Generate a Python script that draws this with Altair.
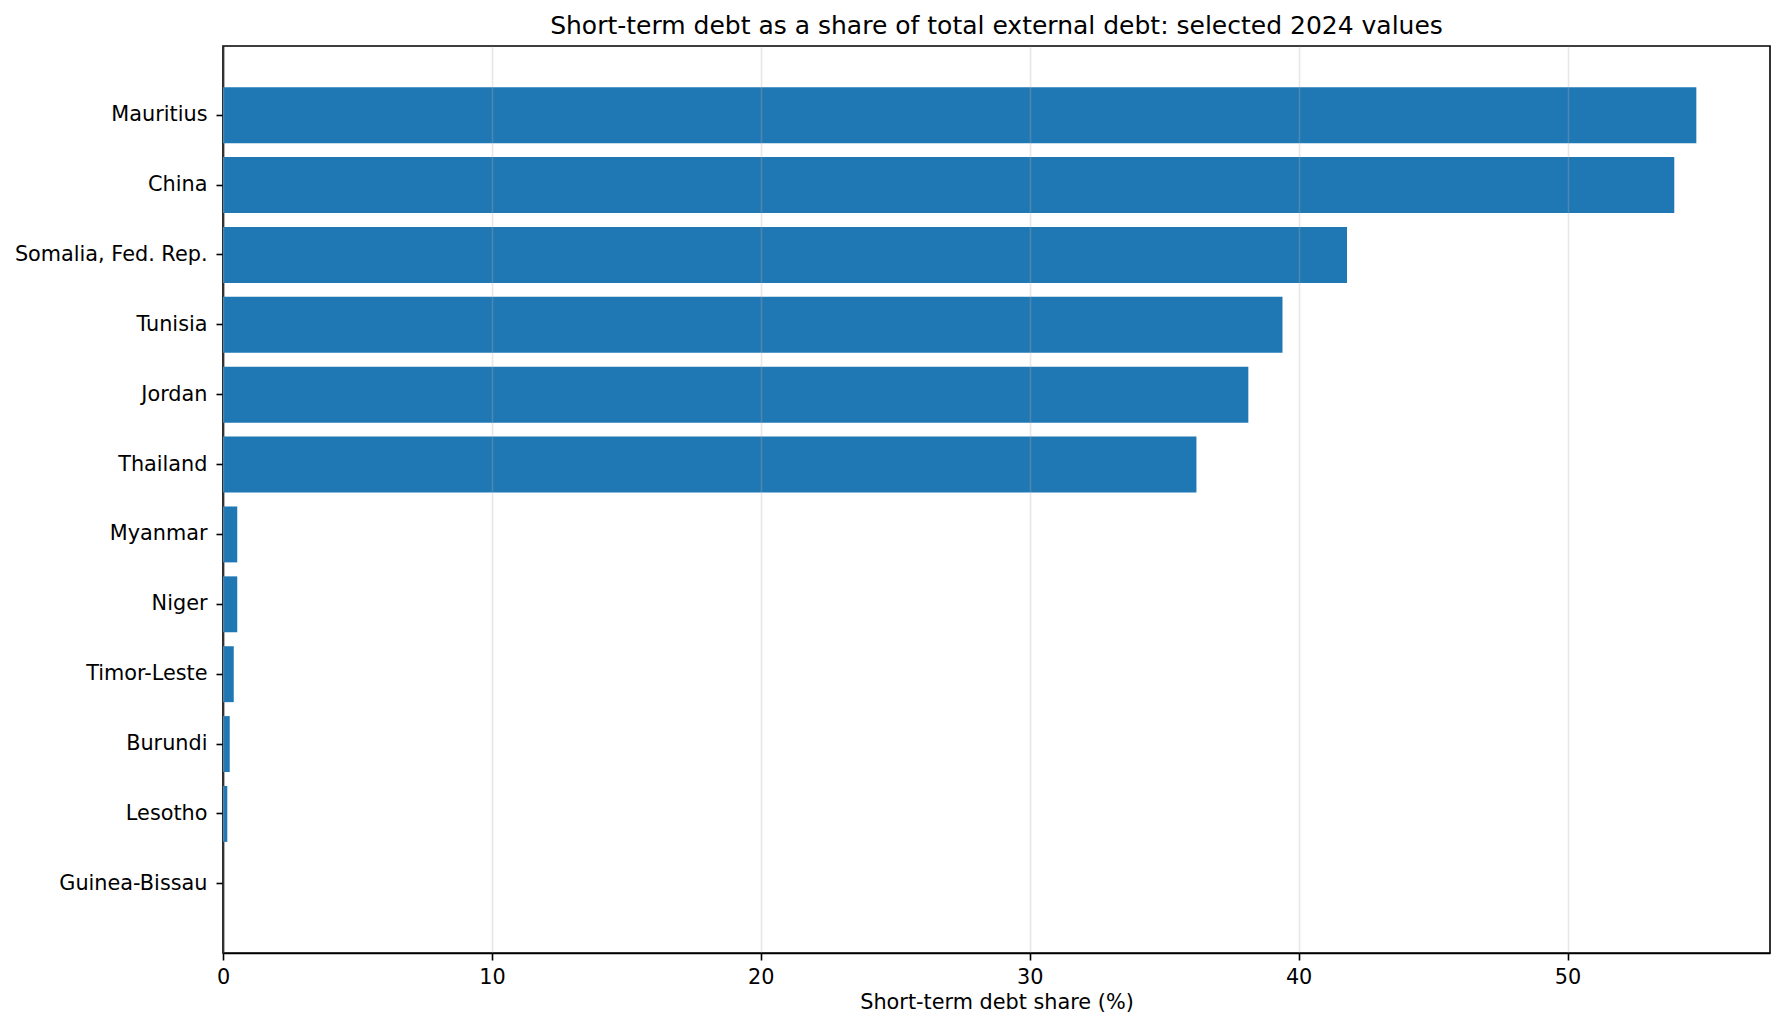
import altair as alt
import pandas as pd

COUNTRIES = [
    "Mauritius",
    "China",
    "Somalia, Fed. Rep.",
    "Tunisia",
    "Jordan",
    "Thailand",
    "Myanmar",
    "Niger",
    "Timor-Leste",
    "Burundi",
    "Lesotho",
    "Guinea-Bissau",
]
SHARES = [54.79, 53.97, 41.8, 39.4, 38.13, 36.2, 0.53, 0.53, 0.4, 0.25, 0.16, 0.0]
X_TICKS = [0, 10, 20, 30, 40, 50]

TITLE = "Short-term debt as a share of total external debt: selected 2024 values"
FONT = "DejaVu Sans"

df = pd.DataFrame({"country": COUNTRIES, "share": SHARES})

bars = (
    alt.Chart(df)
    .mark_bar(color="#1f77b4")
    .encode(
        x=alt.X(
            "share:Q",
            title="Short-term debt share (%)",
            scale=alt.Scale(domain=[0, max(SHARES) * 1.05], nice=False, zero=True),
            axis=alt.Axis(
                values=X_TICKS,
                format="d",
                labelFlush=False,
                grid=True,
                gridColor="#b0b0b0",
                gridOpacity=0.3,
                gridWidth=1.6,
                zindex=1,
                titlePadding=6,
            ),
        ),
        y=alt.Y(
            "country:N",
            sort=COUNTRIES,
            title=None,
            scale=alt.Scale(paddingInner=0.2, paddingOuter=0.59),
            axis=alt.Axis(grid=False, labelLimit=0, labelPadding=9),
        ),
        tooltip=["country:N", alt.Tooltip("share:Q", format=".2f")],
    )
)

chart = (
    bars.properties(
        width=1547,
        height=907,
        autosize="none",
        padding={"left": 215, "top": 38, "right": 7, "bottom": 70},
        title=alt.TitleParams(
            text=TITLE,
            font=FONT,
            fontSize=25,
            fontWeight="normal",
            color="black",
            anchor="middle",
            offset=7,
        ),
    )
    .configure_view(stroke="black", strokeWidth=1.6)
    .configure_axis(
        domainColor="black",
        domainWidth=1.6,
        tickColor="black",
        tickWidth=1.6,
        tickSize=7,
        labelPadding=7,
        labelFont=FONT,
        labelFontSize=20.8,
        labelColor="black",
        titleFont=FONT,
        titleFontSize=20.8,
        titleFontWeight="normal",
        titleColor="black",
    )
)

chart.save("out.html", embed_options={"renderer": "svg", "actions": False})
